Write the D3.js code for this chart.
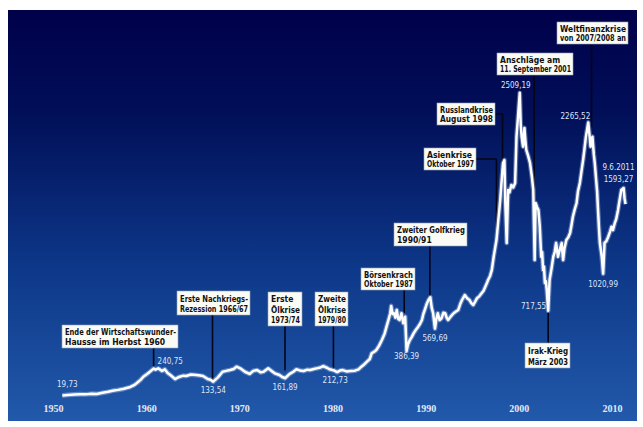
<!DOCTYPE html>
<html>
<head>
<meta charset="utf-8">
<script src="https://cdn.jsdelivr.net/npm/d3@7/dist/d3.min.js"></script>
<style>
  html, body { margin: 0; padding: 0; background: #fff; }
  svg { display: block; }
</style>
</head>
<body>
<svg id="chart"></svg>
<script>
// index level (year as decimal)
const dates = [
  1951.0, 1951.6, 1952.3, 1952.9, 1953.5, 1954.1, 1954.7, 1955.3, 1955.9, 1956.4,
  1957.0, 1957.6, 1958.3, 1958.7, 1959.0, 1959.4, 1959.7, 1960.1, 1960.4, 1960.8,
  1961.0, 1961.3, 1961.7, 1962.0, 1962.3, 1962.6, 1963.1, 1963.4, 1963.6, 1964.0,
  1964.3, 1964.8, 1965.4, 1965.8, 1966.1, 1966.6, 1966.9, 1967.2, 1967.7, 1968.2,
  1968.6, 1969.0, 1969.4, 1969.7, 1970.1, 1970.6, 1971.1, 1971.5, 1971.9, 1972.3,
  1972.6, 1973.1, 1973.5, 1973.8, 1974.3, 1974.6, 1974.9, 1975.4, 1975.8, 1976.1,
  1976.5, 1976.9, 1977.3, 1977.6, 1978.0, 1978.3, 1978.7, 1979.0, 1979.4, 1979.7,
  1980.1, 1980.5, 1980.8, 1981.1, 1981.5, 1981.9, 1982.4, 1982.8, 1983.1, 1983.4,
  1983.7, 1984.0, 1984.2, 1984.5, 1984.7, 1985.0, 1985.3, 1985.6, 1985.8, 1986.0,
  1986.2, 1986.3, 1986.45, 1986.6, 1986.75, 1986.9, 1987.05, 1987.2, 1987.4, 1987.6,
  1987.8, 1987.95, 1988.1, 1988.3, 1988.5, 1988.7, 1988.95, 1989.2, 1989.4, 1989.6,
  1989.75, 1989.9, 1990.1, 1990.3, 1990.5, 1990.65, 1990.8, 1991.0, 1991.15, 1991.3,
  1991.5, 1991.7, 1991.9, 1992.1, 1992.25, 1992.4, 1992.7, 1993.0, 1993.25, 1993.5,
  1993.7, 1993.9, 1994.2, 1994.45, 1994.7, 1994.9, 1995.1, 1995.3, 1995.5, 1995.75,
  1996.0, 1996.2, 1996.4, 1996.55, 1996.7, 1996.9, 1997.1, 1997.3, 1997.45, 1997.6,
  1997.7, 1997.8, 1997.9, 1998.0, 1998.15, 1998.3, 1998.45, 1998.55, 1998.7, 1998.85,
  1999.0, 1999.2, 1999.4, 1999.6, 1999.75, 1999.9, 2000.1, 2000.2, 2000.3, 2000.45,
  2000.6, 2000.7, 2000.8, 2001.0, 2001.2, 2001.4, 2001.55, 2001.7, 2001.8, 2001.95,
  2002.1, 2002.25, 2002.4, 2002.5, 2002.6, 2002.7, 2002.8, 2002.9, 2003.0, 2003.15,
  2003.3, 2003.5, 2003.7, 2003.85, 2004.0, 2004.2, 2004.4, 2004.6, 2004.75, 2004.9,
  2005.1, 2005.3, 2005.5, 2005.65, 2005.8, 2006.0, 2006.2, 2006.35, 2006.55, 2006.7,
  2006.9, 2007.05, 2007.2, 2007.45, 2007.6, 2007.7, 2007.9, 2008.05, 2008.15, 2008.3,
  2008.4, 2008.5, 2008.6, 2008.7, 2008.9, 2009.05, 2009.2, 2009.4, 2009.6, 2009.8,
  2009.95, 2010.1, 2010.3, 2010.45, 2010.65, 2010.8, 2011.0, 2011.25, 2011.35, 2011.45
];
const index = [
  19.73, 24, 28, 30, 29, 34, 32, 42, 50, 59,
  66, 75, 90, 105, 122, 148, 174, 196, 215, 240.75,
  232, 243, 221, 235, 205, 188, 155, 168, 174, 183,
  180, 192, 188, 184, 180, 155, 150, 133.54, 169, 215,
  222, 229, 238, 257, 243, 215, 197, 222, 229, 210,
  215, 243, 220, 202, 188, 172, 161.89, 197, 215, 235,
  226, 221, 232, 229, 238, 243, 250, 262, 248, 235,
  228, 212.73, 225, 229, 218, 221, 224, 235, 257, 275,
  298, 320, 367, 380, 394, 430, 476, 530, 586, 640,
  696, 756, 690, 696, 660, 723, 650, 641, 696, 614,
  668, 386.39, 440, 476, 500, 531, 560, 586, 610, 641,
  690, 723, 770, 805, 827, 740, 696, 569.69, 650, 696,
  640, 655, 700, 696, 660, 641, 670, 696, 710, 723,
  770, 805, 846, 820, 805, 780, 764, 790, 819, 835,
  860, 880, 914, 940, 970, 1000, 1052, 1161, 1230, 1298,
  1380, 1463, 1540, 1627, 1780, 1929, 1956, 1600, 1274, 1710,
  1690, 1751, 1730, 1767, 2148, 2300, 2509.19, 2250, 2148, 2066,
  2220, 2120, 2039, 1990, 1932, 1819, 1710, 1134, 1603, 1570,
  1546, 1408, 1161, 1200, 1052, 1080, 945, 960, 887, 717.55,
  970, 1060, 1161, 1200, 1274, 1161, 1220, 1274, 1134, 1230,
  1298, 1320, 1356, 1420, 1490, 1550, 1603, 1700, 1767, 1850,
  1956, 2050, 2148, 2265.52, 2150, 2066, 2148, 2000, 1932, 1792,
  1700, 1546, 1400, 1274, 1161, 1020.99, 1274, 1290, 1326, 1370,
  1408, 1380, 1438, 1470, 1546, 1620, 1710, 1726, 1640, 1593.27
];

const axisYears = [1950, 1960, 1970, 1980, 1990, 2000, 2010];

// value labels
const labelDates  = [1951.0, 1960.8, 1967.2, 1974.9, 1980.5, 1987.95, 1991.0, 2000.1, 2007.45, 2003.15, 2009.05, 2011.45];
const labelValues = [19.73, 240.75, 133.54, 161.89, 212.73, 386.39, 569.69, 2509.19, 2265.52, 717.55, 1020.99, 1593.27];
const labelTexts  = [["19,73"], ["240,75"], ["133,54"], ["161,89"], ["212,73"], ["386,39"], ["569,69"],
                     ["2509,19"], ["2265,52"], ["717,55"], ["1020,99"], ["9.6.2011", "1593,27"]];

// events
const eventTexts = [
  ["Ende der Wirtschaftswunder-", "Hausse im Herbst 1960"],
  ["Erste Nachkriegs-", "Rezession 1966/67"],
  ["Erste", "Ölkrise", "1973/74"],
  ["Zweite", "Ölkrise", "1979/80"],
  ["Börsenkrach", "Oktober 1987"],
  ["Zweiter Golfkrieg", "1990/91"],
  ["Asienkrise", "Oktober 1997"],
  ["Russlandkrise", "August 1998"],
  ["Anschläge am", "11. September 2001"],
  ["Weltfinanzkrise", "von 2007/2008 an"],
  ["Irak-Krieg", "März 2003"]
];
const eventYears  = [1960.8, 1967.12, 1974.9, 1980.1, 1987.7, 1990.45, 1997.6, 1998.25, 2001.65, 2007.8, 2003.15];
const eventLevels = [260, 150, 225, 240, 700, 840, 1400, 1900, 1150, 2230, 717.55];

// layout
const W = 643, H = 427;
const panel = {x: 8, y: 10, w: 629, h: 411};
const eventBoxes = [
  [62, 325, 116, 23], [177, 291, 73, 24], [268, 292, 34, 34], [315, 292, 33, 34],
  [361, 268, 54, 22], [394, 223, 73, 23], [424, 148, 52, 22], [437, 103, 58, 22],
  [497, 53, 76, 22], [557, 22, 71, 22], [525, 343, 45, 25]
];
const labelOffsets = [
  ["middle", 5, -9], ["start", 4, -5], ["middle", 0, 11], ["middle", 0, 12],
  ["middle", -2, 11], ["middle", 0, 8], ["middle", 0, 12], ["middle", -4, -5],
  ["end", 2, -3], ["end", -2, -2], ["middle", 0, 13], ["middle", -7, -34]
];

const x = d3.scaleLinear().domain([1950, 2010]).range([53, 612]);
const y = d3.scaleLinear().domain([0, 2500]).range([397.9, 93.9]);

const svg = d3.select("#chart").attr("width", W).attr("height", H);

const grad = svg.append("defs").append("linearGradient")
    .attr("id", "bg").attr("x1", 0).attr("y1", 0).attr("x2", 0).attr("y2", 1);
grad.append("stop").attr("offset", "0%").attr("stop-color", "#00004a");
grad.append("stop").attr("offset", "25%").attr("stop-color", "#010f58");
grad.append("stop").attr("offset", "62%").attr("stop-color", "#0d3788");
grad.append("stop").attr("offset", "100%").attr("stop-color", "#2259aa");

svg.append("rect")
    .attr("x", panel.x).attr("y", panel.y)
    .attr("width", panel.w).attr("height", panel.h)
    .attr("fill", "url(#bg)");

// x axis
svg.append("g")
    .attr("transform", "translate(0,402)")
    .call(d3.axisBottom(x).tickValues(axisYears).tickFormat(d3.format("d")).tickSize(0))
    .call(g => g.select(".domain").remove())
    .selectAll("text")
      .attr("fill", "#e3e9f7")
      .attr("font-family", "'Liberation Serif', 'DejaVu Serif', serif")
      .attr("font-size", 10)
      .attr("font-weight", "bold");

// leader lines (drawn under the line)
const data = dates.map((d, i) => ({date: d, value: index[i]}));

const leaders = svg.append("g").attr("stroke", "#05051a").attr("stroke-width", 1.6);
eventYears.forEach((yr, i) => {
  const [bx, by, bw, bh] = eventBoxes[i];
  const lx = x(yr);
  const ly = y(eventLevels[i]);
  if (i === 10) {
    // Irak: box below the line
    leaders.append("line").attr("x1", lx).attr("x2", lx).attr("y1", ly + 2).attr("y2", by);
  } else if (lx > bx + bw) {
    // leader to the right of its box
    const my = by + bh / 2;
    leaders.append("line").attr("x1", bx + bw).attr("x2", lx).attr("y1", my).attr("y2", my);
    leaders.append("line").attr("x1", lx).attr("x2", lx).attr("y1", my).attr("y2", ly);
  } else {
    leaders.append("line").attr("x1", lx).attr("x2", lx).attr("y1", by + bh).attr("y2", ly);
  }
});

// the index line
const line = d3.line().x(d => x(d.date)).y(d => y(d.value));
svg.append("path").datum(data)
    .attr("fill", "none")
    .attr("stroke", "rgba(220,235,255,0.35)")
    .attr("stroke-width", 4.8)
    .attr("stroke-linejoin", "round")
    .attr("d", line);
svg.append("path").datum(data)
    .attr("fill", "none")
    .attr("stroke", "#ffffff")
    .attr("stroke-width", 2.5)
    .attr("stroke-linejoin", "round")
    .attr("d", line);

// event boxes
const boxes = svg.append("g");
eventTexts.forEach((lines, i) => {
  const [bx, by, bw, bh] = eventBoxes[i];
  const g = boxes.append("g");
  g.append("rect")
      .attr("x", bx).attr("y", by).attr("width", bw).attr("height", bh)
      .attr("fill", "#fbfbf6").attr("stroke", "#9aa3b5").attr("stroke-width", 0.6);
  const lh = (bh - 3) / lines.length;
  lines.forEach((t, j) => {
    const txt = g.append("text")
        .attr("x", bx + 3)
        .attr("y", by + 2 + lh * (j + 1) - 2)
        .attr("font-family", "'Liberation Sans Narrow', 'DejaVu Sans Condensed', 'Liberation Sans', sans-serif")
        .attr("font-stretch", "condensed")
        .attr("font-weight", "bold")
        .attr("font-size", 8.5)
        .attr("fill", "#111")
        .text(t);
    const avail = bw - 5;
    if (txt.node().getComputedTextLength() > avail) {
      txt.attr("textLength", avail).attr("lengthAdjust", "spacingAndGlyphs");
    }
  });
});

// value labels
const vl = svg.append("g")
    .attr("fill", "#dce6fa")
    .attr("font-family", "'Liberation Sans Narrow', 'DejaVu Sans Condensed', sans-serif")
    .attr("font-stretch", "condensed")
    .attr("font-size", 8);
labelDates.forEach((d, i) => {
  const [anchor, dx, dy] = labelOffsets[i];
  labelTexts[i].forEach((t, j) => {
    vl.append("text")
        .attr("x", x(d) + dx)
        .attr("y", y(labelValues[i]) + dy + j * 12)
        .attr("text-anchor", anchor)
        .text(t);
  });
});
</script>
</body>
</html>
